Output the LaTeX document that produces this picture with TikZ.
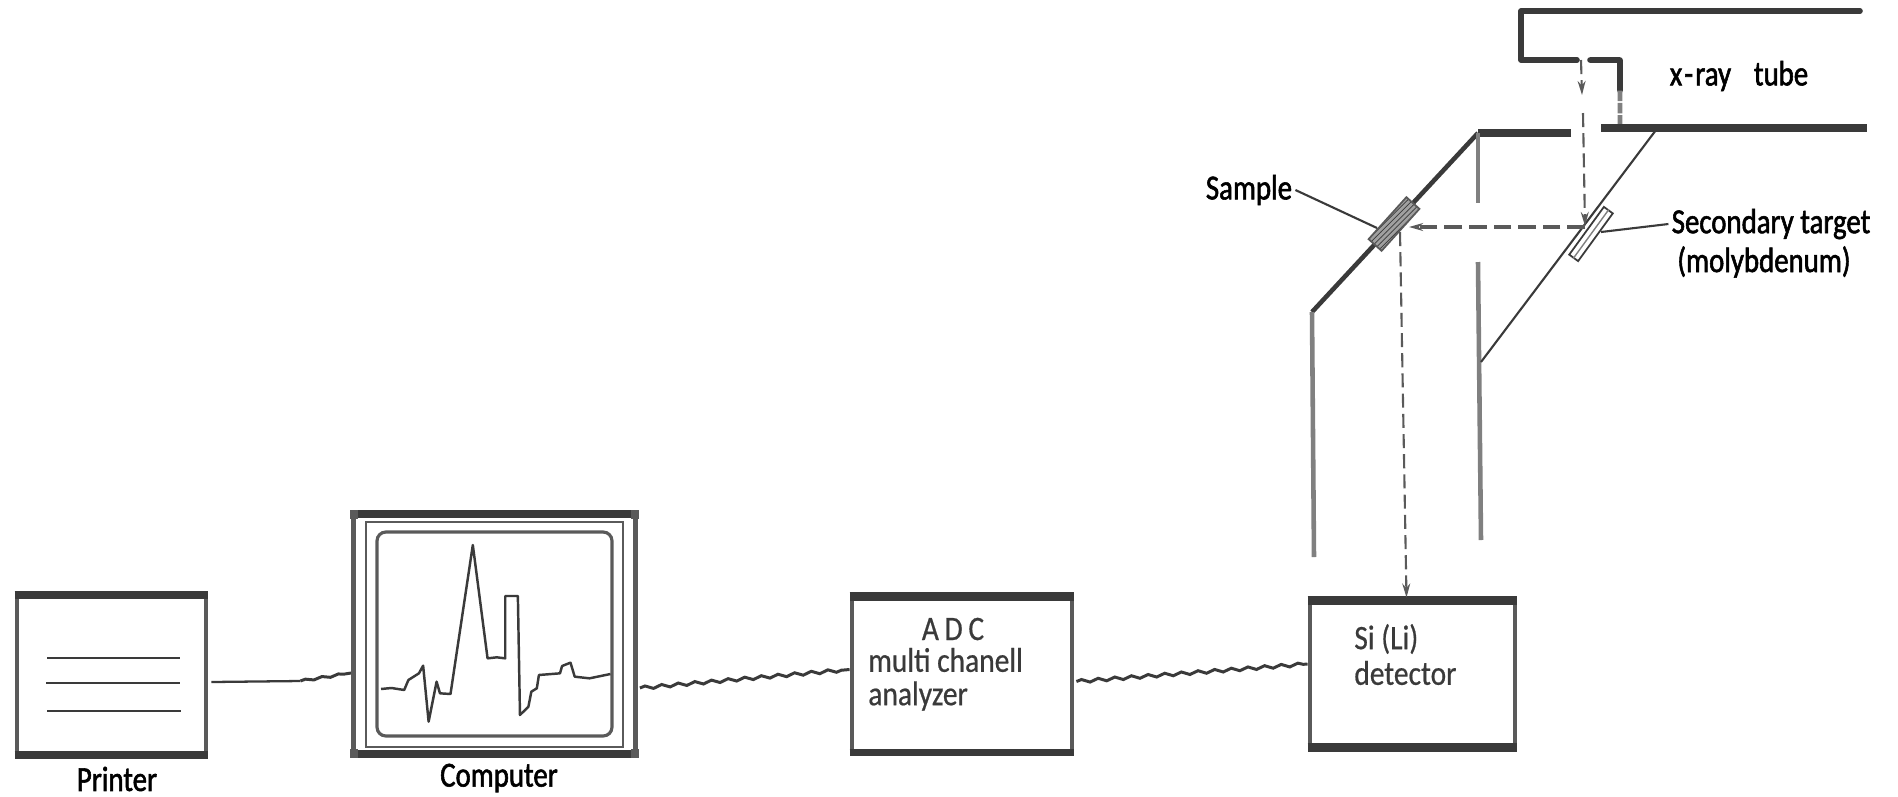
\documentclass[tikz,border=0pt]{standalone}
\usepackage{fontspec}
\setmainfont[FakeStretch=0.86]{Carlito}
\newfontfamily\labfont[FakeStretch=0.82,FakeBold=1.6]{Carlito}
\newfontfamily\boxfont[FakeStretch=0.86,FakeBold=0.6]{Carlito}
\usetikzlibrary{arrows.meta,calc,decorations.pathmorphing,patterns}
\definecolor{ink}{HTML}{3A3A3A}
\definecolor{midink}{HTML}{5A5A5A}
\definecolor{paleink}{HTML}{808080}
\tikzset{
  x=0.02cm,y=-0.02cm,
  boxframe/.style={draw=midink,line width=2.8pt,inner sep=0pt},
  band/.style={ink,line width=4.6pt},
  wall/.style={draw=ink,line width=3.2pt},
  pipe/.style={draw=paleink,line width=2.6pt},
  thinline/.style={draw=ink,line width=1.2pt},
  wire/.style={ink,line width=1.7pt,decorate,decoration={snake,amplitude=0.9pt,segment length=9.5pt,post length=2pt,post=lineto}},
  beam/.style={draw=midink,line width=1.2pt,dash pattern=on 8pt off 3.5pt},
  thickbeam/.style={draw=midink,line width=2.2pt,dash pattern=on 10pt off 4pt},
  tip/.style={-{Stealth[length=8pt,width=4.5pt]}},
  lab/.style={inner sep=0pt,text=black,font=\labfont\fontsize{20}{20}\selectfont},
  labg/.style={inner sep=0pt,text=ink,anchor=west,font=\boxfont\fontsize{19.5}{19.5}\selectfont},
  corner/.style={fill=midink,inner sep=0pt,minimum size=5pt},
}
\begin{document}
\begin{tikzpicture}
\useasboundingbox (0,0) rectangle (1898,796);

% --- wires
\node[boxframe,draw=none,minimum width=3.78cm,minimum height=3.24cm] (printer) at (111.5,675) {};
\node[boxframe,draw=none,minimum width=5.64cm,minimum height=4.84cm] (computer) at (494.5,634) {};
\node[boxframe,draw=none,minimum width=4.4cm,minimum height=3.14cm] (adc) at (962,673.5) {};
\node[boxframe,draw=none,minimum width=4.1cm,minimum height=2.96cm] (detector) at (1412.5,674) {};
\draw[ink,line width=1.3pt] ($(printer.east)+(3,7)$) -- ($(printer.east)+(92,6)$);
\draw[wire,decoration={amplitude=0.6pt}] ($(printer.east)+(92,6)$) -- ($(computer.west)+(0,39)$);
\draw[wire] ($(computer.east)+(2,54)$) -- ($(adc.west)+(0,-4)$);
\draw[wire] ($(adc.east)+(2,8)$) -- ($(detector.west)+(0,-10)$);

% --- x-ray tube and chamber
\coordinate (tubeTR) at (1860,11);
\coordinate (tubeTL) at (1521,11);
\coordinate (shelfL) at (1521,60);
\coordinate (shelfGapA) at (1577,60);
\coordinate (shelfGapB) at (1590,60);
\coordinate (shelfR) at (1620,60);
\coordinate (shelfD) at (1620,128);
\coordinate (tubeLowL) at (1601,128);
\coordinate (tubeLowR) at (1867,128);
\coordinate (holdR) at (1571,133);
\coordinate (holdL) at (1478,133);
\coordinate (diagB) at (1312,312);
\coordinate (pipeLB) at (1314,557);
\coordinate (stubB) at (1478,203);
\coordinate (pipeRT) at (1478,262);
\coordinate (pipeRB) at (1481,540);
\coordinate (thinA) at (1656,130);
\coordinate (thinB) at (1481,362);

\draw[wall,line cap=round,line join=round] (tubeTR) -- (tubeTL) -- (shelfL) -- (shelfGapA);
\draw[wall,line cap=round,line join=round] (shelfGapB) -- (shelfR) -- ($(shelfR)!0.45!(shelfD)$);
\draw[pipe,dash pattern=on 6pt off 1pt] ($(shelfR)!0.45!(shelfD)$) -- (shelfD);
\draw[wall,line width=4pt] (tubeLowL) -- (tubeLowR);
\draw[wall,line width=4pt] (holdR) -- (holdL);
\draw[wall,line width=2.6pt,line join=round] (holdL) -- (diagB);
\draw[pipe,line join=round] (diagB) -- (pipeLB);
\draw[pipe] (holdL) -- (stubB);
\draw[pipe] (pipeRT) -- (pipeRB);
\draw[thinline] (thinA) -- (thinB);

% --- sample and target
\node[draw=midink,line width=1pt,preaction={fill=paleink!75},pattern=north east lines,pattern color=ink,
      minimum width=1.13cm,minimum height=0.35cm,inner sep=0pt,rotate=48] (sample) at (1394,224) {};
\node[draw=ink,line width=1pt,fill=white,minimum width=1.18cm,minimum height=0.22cm,inner sep=0pt,rotate=54] (target) at (1591,234) {};
\draw[draw=paleink,line width=0.8pt] (target.west) -- (target.east);

% --- beams
\coordinate (beamA) at (1581,60);
\coordinate (beamB) at (1582,95);
\coordinate (beamC) at (1583,113);
\draw[beam,tip] (beamA) -- (beamB);
\draw[beam,tip] (beamC) -- ($(target.center)+(-6,-8)$);
\draw[thickbeam,tip] ($(target.center)+(-6,-7)$) -- ($(sample.center)+(15,3)$);

% --- boxes
\node[boxframe,minimum width=3.78cm,minimum height=3.24cm] (printerf) at (printer.center) {};
\draw[band] ($(printerf.north west)+(0,3)$) -- ($(printerf.north east)+(0,3)$);
\draw[band] ($(printerf.south west)+(0,-3)$) -- ($(printerf.south east)+(0,-3)$);
\draw[ink,line width=1.6pt] (47,658) -- (180,658) (46,683) -- (180,683) (47,711) -- (181,711);

\node[boxframe,minimum width=5.64cm,minimum height=4.84cm] (computerf) at (computer.center) {};
\draw[band] ($(computerf.north west)+(3,3)$) -- ($(computerf.north east)+(-3,3)$);
\draw[band] ($(computerf.south west)+(3,-3)$) -- ($(computerf.south east)+(-3,-3)$);
\node[draw=midink,line width=1.4pt,minimum width=5.14cm,minimum height=4.5cm,inner sep=0pt] (bezel) at (494.5,634.5) {};
\node[draw=midink,line width=1.8pt,rounded corners=5pt,minimum width=4.7cm,minimum height=4.08cm,inner sep=0pt] (screen) at (494.5,634) {};
\node[corner] at ($(computerf.north west)+(3,4)$) {};
\node[corner] at ($(computerf.north east)+(-3,4)$) {};
\node[corner] at ($(computerf.south west)+(3,-4)$) {};
\node[corner] at ($(computerf.south east)+(-3,-4)$) {};
\begin{scope}[shift={(0,490)},x=0.0084175cm,y=-0.0066667cm]
\draw[ink,line width=1.4pt,line join=round]
 (905,597)--(930,594)--(960,600)--(970,570)--(995,550)--(1005,527)--(1018,695)--(1037,575)--(1045,610)--(1070,612)
 --(1123,165)--(1158,505)--(1180,502)--(1200,505)--(1200,318)--(1230,318)--(1235,675)--(1255,650)--(1262,605)--(1275,595)
 --(1280,555)--(1330,550)--(1335,528)--(1355,518)--(1365,560)--(1400,565)--(1450,552);
\end{scope}

\node[boxframe,minimum width=4.4cm,minimum height=3.14cm] (adcf) at (adc.center) {};
\draw[band,line width=5.2pt] ($(adcf.north west)+(0,4)$) -- ($(adcf.north east)+(0,4)$);
\draw[band,line width=3.6pt] ($(adcf.south west)+(0,-2)$) -- ($(adcf.south east)+(0,-2)$);

\node[boxframe,minimum width=4.1cm,minimum height=2.96cm] (detectorf) at (detector.center) {};
\draw[band,line width=5pt] ($(detectorf.north west)+(0,3)$) -- ($(detectorf.north east)+(0,3)$);
\draw[band,line width=5pt] ($(detectorf.south west)+(0,-3)$) -- ($(detectorf.south east)+(0,-3)$);

% --- last beam, onto the detector
\draw[beam,tip] ($(sample.center)+(6,8)$) -- ($(detectorf.north)+(-6,0)$);

% --- labels
\node[lab] (lprinter) at (117,779) {Printer};
\node[lab] (lcomputer) at (499,778) {Computer};
\node[labg,anchor=center] (ladc) at (953,629) {A\,D\,C};
\node[labg] (lmulti) at (868,660) {multi chanell};
\node[labg] (lanalyzer) at (868,696) {analyzer};
\node[labg] (lsi) at (1354,639) {Si (Li)};
\node[labg] (ldet) at (1354,673) {detector};
\node[lab] (lsample) at (1249,190) {Sample};
\node[lab] (ltube) at (1739,76) {x\kern1.2pt-\kern1.2pt ray\hspace{0.65em}tube};
\node[lab] (lsec) at (1771,224) {Secondary target};
\node[lab] (lmol) at (1764,262) {(molybdenum)};
\draw[thinline] (lsample.east) ++(3,0) -- ($(sample.center)+(-17,4)$);
\draw[thinline] (lsec.west) ++(-3,0) -- ($(target.center)+(10,-2)$);
\end{tikzpicture}
\end{document}
